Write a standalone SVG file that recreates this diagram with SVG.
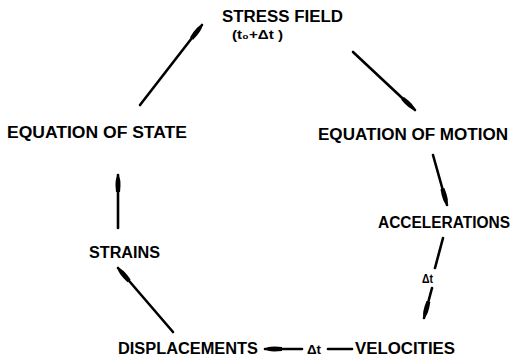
<svg xmlns="http://www.w3.org/2000/svg" width="515" height="356" viewBox="0 0 515 356">
<defs>
<style>
.t{font-family:"Liberation Sans","DejaVu Sans",sans-serif;font-weight:bold;font-size:16px;fill:#000}
.s{font-family:"Liberation Sans","DejaVu Sans",sans-serif;font-weight:bold;font-size:12px;fill:#000}
.c{stroke:#000;stroke-width:2.6;fill:none;stroke-linecap:round}
</style>
<marker id="ah" markerUnits="userSpaceOnUse" viewBox="-18 -4 20 8" refX="0" refY="0" markerWidth="20" markerHeight="8" orient="auto">
<path d="M0,0 Q-3,-3.6 -17,-2 L-17,2 Q-3,3.6 0,0 Z" fill="#000"/>
</marker>
</defs>
<rect width="515" height="356" fill="#fff"/>
<g id="stress-field">
<text class="t" x="222" y="22" textLength="121" lengthAdjust="spacingAndGlyphs">STRESS FIELD</text>
<text class="s" x="232" y="39" textLength="51" lengthAdjust="spacingAndGlyphs">(t₀+Δt )</text>
</g>
<g id="equation-of-state"><text class="t" x="7" y="138" textLength="180" lengthAdjust="spacingAndGlyphs">EQUATION OF STATE</text></g>
<g id="equation-of-motion"><text class="t" x="318" y="140" textLength="190" lengthAdjust="spacingAndGlyphs">EQUATION OF MOTION</text></g>
<g id="accelerations"><text class="t" x="378" y="228" textLength="132" lengthAdjust="spacingAndGlyphs">ACCELERATIONS</text></g>
<g id="strains"><text class="t" x="89" y="258" textLength="71" lengthAdjust="spacingAndGlyphs">STRAINS</text></g>
<g id="displacements"><text class="t" x="118" y="354" textLength="140" lengthAdjust="spacingAndGlyphs">DISPLACEMENTS</text></g>
<g id="velocities"><text class="t" x="355" y="354" textLength="100" lengthAdjust="spacingAndGlyphs">VELOCITIES</text></g>
<g id="connectors">
<line class="c" x1="140" y1="105" x2="202" y2="25" marker-end="url(#ah)"/>
<line class="c" x1="353" y1="52" x2="415" y2="110" marker-end="url(#ah)"/>
<line class="c" x1="433" y1="155" x2="447" y2="205" marker-end="url(#ah)"/>
<line class="c" x1="443" y1="238" x2="435" y2="268"/>
<text class="s" x="422" y="283" font-size="11" textLength="11" lengthAdjust="spacingAndGlyphs">Δt</text>
<line class="c" x1="432" y1="288" x2="424" y2="318" marker-end="url(#ah)"/>
<line class="c" x1="352" y1="349" x2="328" y2="349"/>
<text class="s" x="307" y="354" textLength="14" lengthAdjust="spacingAndGlyphs">Δt</text>
<line class="c" x1="302" y1="349" x2="265" y2="349" marker-end="url(#ah)"/>
<line class="c" x1="173" y1="332" x2="118" y2="268" marker-end="url(#ah)"/>
<line class="c" x1="118" y1="228" x2="118" y2="175" marker-end="url(#ah)"/>
</g>
</svg>
